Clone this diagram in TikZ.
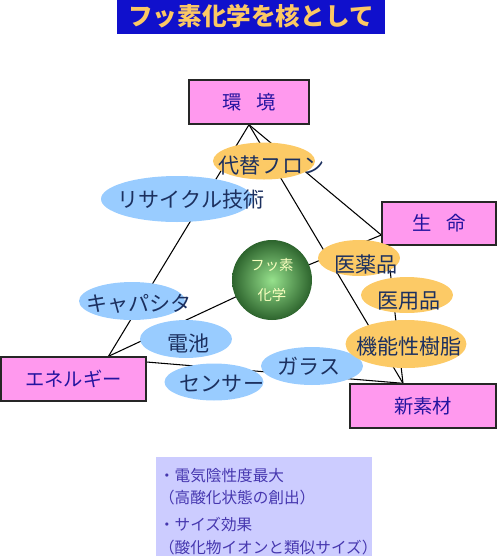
\documentclass[tikz,border=0pt]{standalone}
\usepackage{fontspec}
\setmainfont{Noto Sans CJK JP}
\usepackage{xcolor}
\usepackage{tikz}
\usetikzlibrary{shapes.geometric,backgrounds}

\definecolor{titleblue}{RGB}{16,16,204}
\definecolor{titlegold}{RGB}{252,200,100}
\definecolor{topicpink}{RGB}{255,153,238}
\definecolor{topicink}{RGB}{36,20,160}
\definecolor{usegold}{RGB}{252,202,102}
\definecolor{useblue}{RGB}{153,204,255}
\definecolor{useink}{RGB}{28,48,95}
\definecolor{notelav}{RGB}{204,204,255}
\definecolor{noteink}{RGB}{70,55,175}
\definecolor{ballhi}{RGB}{150,225,140}
\definecolor{balllo}{RGB}{45,100,45}

\tikzset{
  topic/.style={rectangle, draw=black!85, line width=0.8pt, fill=topicpink,
                text=topicink, font=\fontsize{11}{13}\selectfont, inner sep=2pt},
  oval/.style={ellipse, fill=#1, inner sep=0pt},
  ovlbl/.style={text=useink, font=\fontsize{12}{14}\selectfont, inner sep=0pt},
  link/.style={line width=0.6pt},
}

\begin{document}
\begin{tikzpicture}[x=0.02cm, y=-0.02cm]
\useasboundingbox (0,0) rectangle (501,556);
% title
\node[rectangle, fill=titleblue, text=titlegold, minimum width=5.36cm, minimum height=0.64cm,
      font=\fontsize{14}{16}\selectfont\bfseries] (title) at (251,16) {フッ素化学を核として};
% four fields
\node[topic, minimum width=2.4cm, minimum height=0.88cm] (env) at (249,102) {環\hspace{0.75em}境};
\node[topic, minimum width=2.28cm, minimum height=0.86cm] (life) at (439,223.5) {生\hspace{0.75em}命};
\node[topic, minimum width=2.9cm, minimum height=0.88cm] (ene) at (73.5,379) {エネルギー};
\node[topic, minimum width=2.92cm, minimum height=0.88cm] (mat) at (423,406) {新素材};
% centre
\node[circle, minimum size=1.6cm, inner sep=0pt, inner color=ballhi, outer color=balllo,
      text=green!10!yellow!25, align=center, font=\fontsize{8.2}{17.6}\selectfont] (ball) at (272,280) {フッ素\\化学};
% applications
\node[oval=usegold, minimum width=2.04cm, minimum height=0.74cm,
      label={[ovlbl, xshift=0.15cm, yshift=-0.1cm]center:代替フロン}] (freon) at (264,161) {};
\node[oval=useblue, minimum width=3.04cm, minimum height=0.92cm,
      label={[ovlbl, xshift=0.28cm]center:リサイクル技術}] (recyc) at (177,199) {};
\node[oval=useblue, minimum width=2.12cm, minimum height=0.76cm,
      label={[ovlbl, xshift=0.14cm, yshift=-0.06cm]center:キャパシタ}] (capa) at (132,301) {};
\node[oval=useblue, minimum width=1.84cm, minimum height=0.76cm,
      label={[ovlbl, xshift=0.06cm, yshift=-0.09cm]center:電池}] (batt) at (186,339) {};
\node[oval=useblue, minimum width=1.98cm, minimum height=0.74cm,
      label={[ovlbl, xshift=0.16cm, yshift=-0.03cm]center:センサー}] (sensor) at (214,382) {};
\node[oval=useblue, minimum width=2.04cm, minimum height=0.76cm,
      label={[ovlbl, xshift=-0.06cm]center:ガラス}] (glass) at (312,366) {};
\node[oval=usegold, minimum width=1.64cm, minimum height=0.72cm,
      label={[ovlbl, xshift=0.14cm, yshift=-0.12cm]center:医薬品}] (drug) at (359,258) {};
\node[oval=usegold, minimum width=1.84cm, minimum height=0.72cm,
      label={[ovlbl, xshift=0.04cm, yshift=-0.12cm]center:医用品}] (medic) at (407,295) {};
\node[oval=usegold, minimum width=2.42cm, minimum height=0.96cm,
      label={[ovlbl, xshift=0.06cm, yshift=-0.04cm]center:機能性樹脂}] (resin) at (406,344) {};
% note (runs off the bottom edge)
\node[rectangle, fill=notelav, text=noteink, minimum width=4.32cm, minimum height=2.18cm,
      text width=4.2cm, inner xsep=0.06cm, align=left, font=\fontsize{8.9}{12.8}\selectfont]
  (note) at (264,511.5) {・電気陰性度最大\\（高酸化状態の創出）\\[2.5pt]・サイズ効果\\（酸化物イオンと類似サイズ）};

\begin{scope}[on background layer]
\draw[link] (env.south) -- ([xshift=0.7cm]ene.north);
\draw[link] (env.south) -- ([xshift=-0.4cm]mat.north);
\draw[link] (env.south) -- ([yshift=-0.23cm]life.west);
\draw[link] (ball.center) -- ([yshift=-0.23cm]life.west);
\draw[link] (ball.center) -- ([xshift=0.7cm]ene.north);
\draw[link] ([xshift=0.12cm]life.south west) -- ([xshift=-0.4cm]mat.north);
\draw[link] ([yshift=0.34cm]ene.east) -- ([xshift=-0.4cm]mat.north);
\end{scope}
\end{tikzpicture}
\end{document}
